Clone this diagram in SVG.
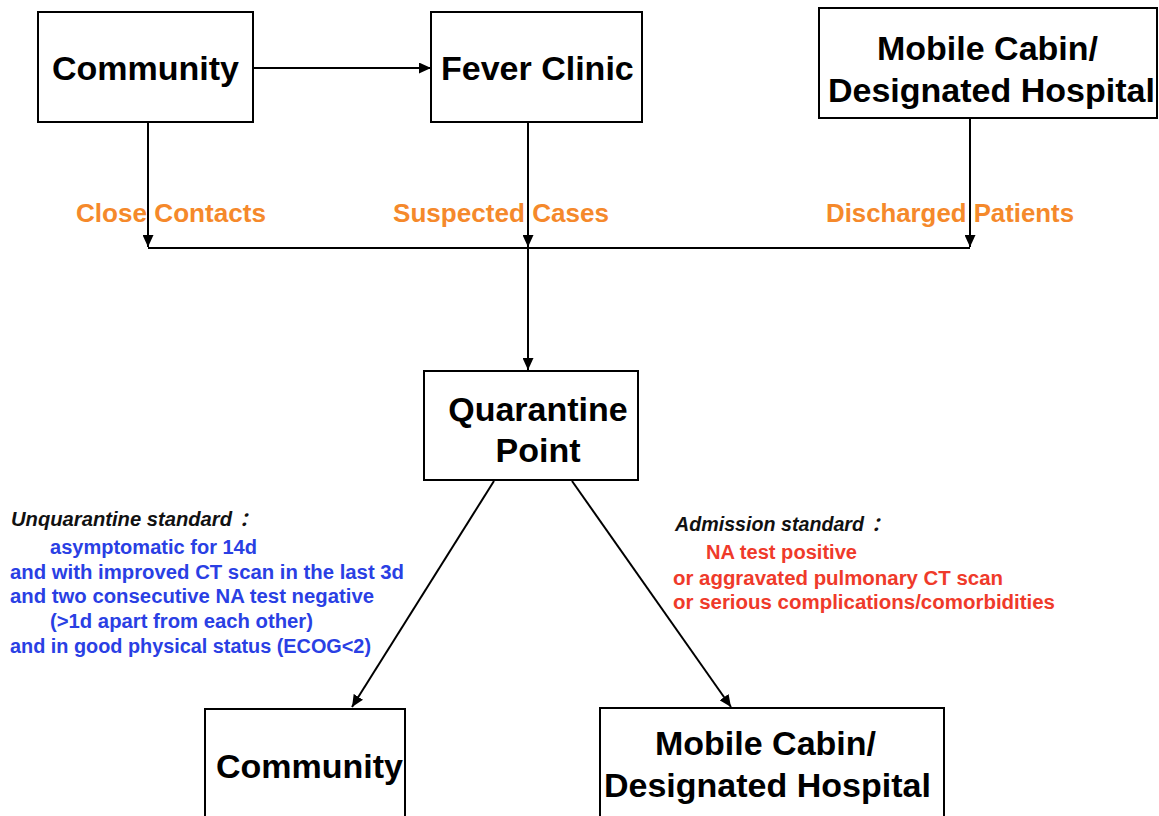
<svg xmlns="http://www.w3.org/2000/svg" width="1159" height="816" viewBox="0 0 1159 816">
<style>
.box{fill:#fff;stroke:#000;stroke-width:2}
.nt{font-family:"Liberation Sans",Arial,sans-serif;font-weight:bold;font-size:34px;fill:#000}
.lbl{font-family:"Liberation Sans",Arial,sans-serif;font-weight:bold;font-size:26px;fill:#f5892b}
.hdr{font-family:"Liberation Sans","Noto Sans CJK SC",sans-serif;font-weight:bold;font-style:italic;font-size:19.5px;fill:#111}
.blue{font-family:"Liberation Sans",Arial,sans-serif;font-weight:bold;font-size:20px;fill:#2a3fe4}
.red{font-family:"Liberation Sans",Arial,sans-serif;font-weight:bold;font-size:20px;fill:#ef3a2a}
.ln{stroke:#000;stroke-width:2;fill:none}
</style>
<defs>
<marker id="ah" markerUnits="userSpaceOnUse" markerWidth="12" markerHeight="11" refX="12" refY="5.5" orient="auto">
<path d="M0,0 L12,5.5 L0,11 z" fill="#000"/>
</marker>
</defs>
<rect width="1159" height="816" fill="#fff"/>
<g id="connectors">
<line class="ln" x1="253" y1="68" x2="431" y2="68" marker-end="url(#ah)"/>
<line class="ln" x1="148" y1="122" x2="148" y2="247" marker-end="url(#ah)"/>
<line class="ln" x1="528" y1="122" x2="528" y2="247" marker-end="url(#ah)"/>
<line class="ln" x1="970" y1="118" x2="970" y2="247" marker-end="url(#ah)"/>
<line class="ln" x1="148" y1="248" x2="970" y2="248"/>
<line class="ln" x1="528" y1="248" x2="528" y2="370" marker-end="url(#ah)"/>
<line class="ln" x1="494" y1="481" x2="352" y2="707" marker-end="url(#ah)"/>
<line class="ln" x1="572" y1="481" x2="731" y2="707" marker-end="url(#ah)"/>
</g>
<g id="labels">
<text class="lbl" x="76" y="222" textLength="190" lengthAdjust="spacingAndGlyphs">Close Contacts</text>
<text class="lbl" x="393" y="222" textLength="216" lengthAdjust="spacingAndGlyphs">Suspected Cases</text>
<text class="lbl" x="826" y="222" textLength="248" lengthAdjust="spacingAndGlyphs">Discharged Patients</text>
</g>
<g id="community-top">
<rect class="box" x="38" y="12" width="215" height="110"/>
<text class="nt" x="52" y="80">Community</text>
</g>
<g id="fever-clinic">
<rect class="box" x="431" y="12" width="211" height="110"/>
<text class="nt" x="441" y="80">Fever Clinic</text>
</g>
<g id="mobile-top">
<rect class="box" x="819" y="8" width="338" height="110"/>
<text class="nt" x="877" y="60">Mobile Cabin/</text>
<text class="nt" x="828" y="102">Designated Hospital</text>
</g>
<g id="quarantine">
<rect class="box" x="424" y="371" width="214" height="109"/>
<text class="nt" x="538" y="421" text-anchor="middle">Quarantine</text>
<text class="nt" x="538" y="462" text-anchor="middle">Point</text>
</g>
<g id="community-bottom">
<rect class="box" x="205" y="709" width="200" height="120"/>
<text class="nt" x="216" y="778">Community</text>
</g>
<g id="mobile-bottom">
<rect class="box" x="600" y="708" width="344" height="120"/>
<text class="nt" x="655" y="755">Mobile Cabin/</text>
<text class="nt" x="604" y="797">Designated Hospital</text>
</g>
<g id="unquarantine-standard">
<text class="hdr" x="11" y="526"><tspan textLength="221" lengthAdjust="spacingAndGlyphs">Unquarantine standard</tspan><tspan x="239">：</tspan></text>
<text class="blue" x="50" y="554" textLength="207" lengthAdjust="spacingAndGlyphs">asymptomatic for 14d</text>
<text class="blue" x="10" y="579" textLength="394" lengthAdjust="spacingAndGlyphs">and with improved CT scan in the last 3d</text>
<text class="blue" x="10" y="603" textLength="364" lengthAdjust="spacingAndGlyphs">and two consecutive NA test negative</text>
<text class="blue" x="50" y="628" textLength="263" lengthAdjust="spacingAndGlyphs">(&gt;1d apart from each other)</text>
<text class="blue" x="10" y="653" textLength="361" lengthAdjust="spacingAndGlyphs">and in good physical status (ECOG&lt;2)</text>
</g>
<g id="admission-standard">
<text class="hdr" x="675" y="531"><tspan textLength="189" lengthAdjust="spacingAndGlyphs">Admission standard</tspan><tspan x="871">：</tspan></text>
<text class="red" x="706" y="559" textLength="151" lengthAdjust="spacingAndGlyphs">NA test positive</text>
<text class="red" x="673" y="585" textLength="330" lengthAdjust="spacingAndGlyphs">or aggravated pulmonary CT scan</text>
<text class="red" x="673" y="609" textLength="382" lengthAdjust="spacingAndGlyphs">or serious complications/comorbidities</text>
</g>
</svg>
